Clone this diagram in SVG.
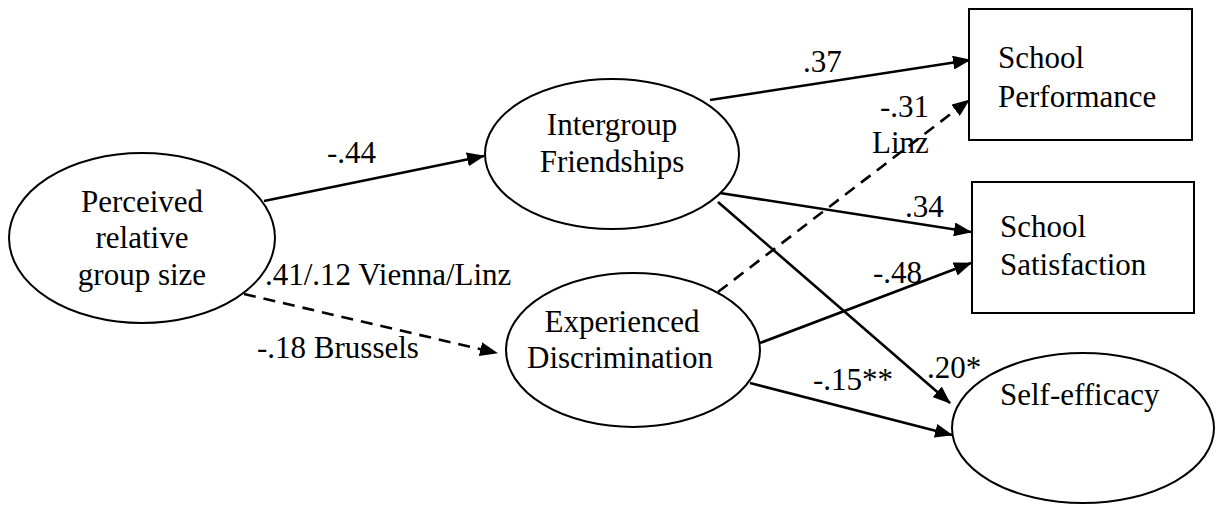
<svg xmlns="http://www.w3.org/2000/svg" width="1216" height="505" viewBox="0 0 1216 505" font-family="'Liberation Serif', 'Times New Roman', Times, 'DejaVu Serif', serif">
<style>
text{font-family:'Liberation Serif','Times New Roman',Times,'DejaVu Serif',serif;font-size:31px;fill:#000}
.n{fill:#fff;stroke:#000;stroke-width:2}
.c{stroke:#000;stroke-width:2.6;fill:none}
.d{stroke-dasharray:12,8}
</style>
<defs>
<marker id="ah" markerUnits="userSpaceOnUse" markerWidth="20" markerHeight="14" refX="17" refY="7" orient="auto">
<path d="M0,0 L18,7 L0,14 z" fill="#000"/>
</marker>
</defs>
<rect width="1216" height="505" fill="#fff"/>
<g id="connectors">
<line class="c" x1="264" y1="201" x2="484" y2="156" marker-end="url(#ah)"/>
<line class="c d" x1="244" y1="294" x2="497" y2="353" marker-end="url(#ah)"/>
<line class="c" x1="710" y1="100" x2="970" y2="60" marker-end="url(#ah)"/>
<line class="c d" x1="718" y1="292" x2="969" y2="100" marker-end="url(#ah)"/>
<line class="c" x1="720" y1="193" x2="971" y2="232" marker-end="url(#ah)"/>
<line class="c" x1="718" y1="202" x2="950" y2="403" marker-end="url(#ah)"/>
<line class="c" x1="760" y1="343" x2="971" y2="263" marker-end="url(#ah)"/>
<line class="c" x1="750" y1="383" x2="952" y2="435" marker-end="url(#ah)"/>
<text x="327" y="163">-.44</text>
<text x="265" y="285">.41/.12 Vienna/Linz</text>
<text x="257" y="358">-.18 Brussels</text>
<text x="803" y="72">.37</text>
<text x="880" y="117">-.31</text>
<text x="872" y="153">Linz</text>
<text x="905" y="217">.34</text>
<text x="873" y="283">-.48</text>
<text x="927" y="378">.20*</text>
<text x="813" y="390">-.15**</text>
</g>
<g id="perceived">
<ellipse class="n" cx="142" cy="238" rx="133" ry="85"/>
<text x="142" y="212" text-anchor="middle">Perceived</text>
<text x="142" y="248" text-anchor="middle">relative</text>
<text x="142" y="285" text-anchor="middle">group size</text>
</g>
<g id="intergroup">
<ellipse class="n" cx="612" cy="154" rx="127" ry="75"/>
<text x="612" y="135" text-anchor="middle">Intergroup</text>
<text x="612" y="172" text-anchor="middle">Friendships</text>
</g>
<g id="experienced">
<ellipse class="n" cx="633" cy="350" rx="127" ry="77"/>
<text x="622" y="332" text-anchor="middle">Experienced</text>
<text x="620" y="368" text-anchor="middle">Discrimination</text>
</g>
<g id="performance">
<rect class="n" x="969" y="9" width="223" height="131"/>
<text x="998" y="68">School</text>
<text x="998" y="107">Performance</text>
</g>
<g id="satisfaction">
<rect class="n" x="972" y="182" width="222" height="131"/>
<text x="1000" y="237">School</text>
<text x="1000" y="275">Satisfaction</text>
</g>
<g id="selfefficacy">
<ellipse class="n" cx="1083" cy="428" rx="131" ry="75"/>
<text x="1000" y="405">Self-efficacy</text>
</g>
</svg>
